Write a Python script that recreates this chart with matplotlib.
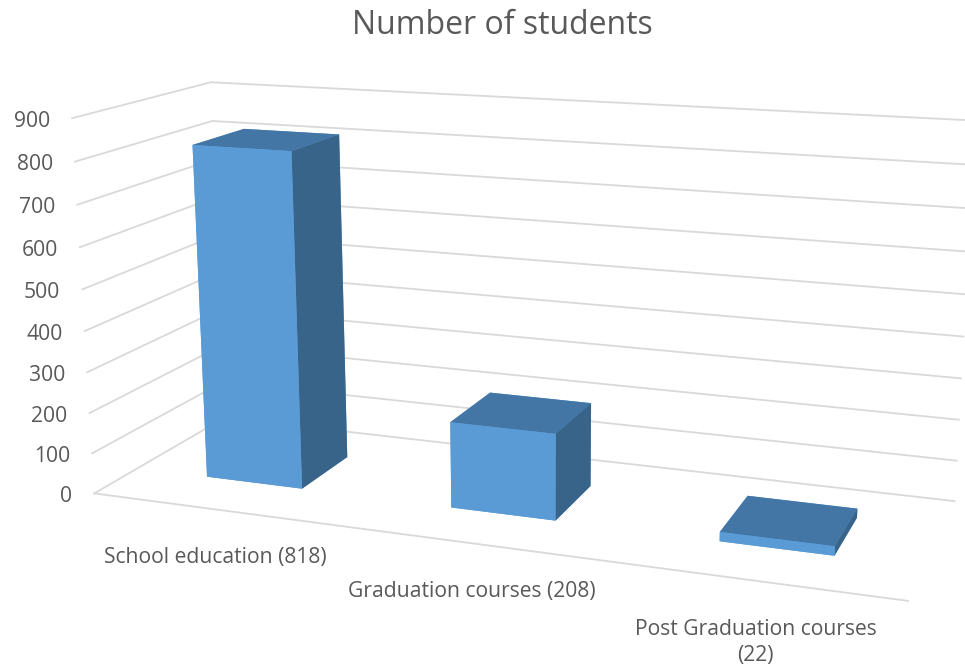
import matplotlib
matplotlib.use('Agg')
import matplotlib.pyplot as plt
from mpl_toolkits.mplot3d import proj3d

categories = ['School education (818)', 'Graduation courses (208)', 'Post Graduation courses\n(22)']
students = [818, 208, 22]
z_ticks = [0, 100, 200, 300, 400, 500, 600, 700, 800, 900]

plt.rcParams['font.family'] = ['Open Sans', 'DejaVu Sans']

W, H = 965, 668
fig = plt.figure(figsize=(W / 100, H / 100), dpi=100)
# square axes, bigger than the figure, camera values fitted against the gridlines
ax = fig.add_axes([-198.1 / W, -363.8 / H, 1400 / W, 1400 / H], projection='3d')
ax.set_proj_type('persp', focal_length=0.2619)
ax.view_init(elev=14.2986, azim=-69.6529, roll=0.1405)
ax.set_box_aspect((3, 0.9985, 1.3979), zoom=0.6683)
ax.set_axis_off()
ax.set_xlim(0, 3)
ax.set_ylim(0, 1)
ax.set_zlim(0, 900)
ax.computed_zorder = False

grid_c = '#d9d9d9'
text_c = '#595959'
px = 0.72  # points per pixel at dpi 100


def label_at(x, y, z, s, dx, dy, **kw):
    # Text3D reports a stale position, so project the anchor and use a 2D annotation
    xs, ys, _ = proj3d.proj_transform(x, y, z, ax.get_proj())
    ax.annotate(s, (xs, ys), xytext=(dx * px, dy * px), textcoords='offset points',
                fontsize=15.2, color=text_c, annotation_clip=False, **kw)


for t in z_ticks:
    ax.plot([0, 0, 3], [0, 1, 1], [t, t, t], color=grid_c, lw=1.3, zorder=1)
    label_at(0, 0, t, str(t), -22, -3, ha='right', va='center')
ax.plot([0, 3], [0, 0], [0, 0], color=grid_c, lw=1.3, zorder=1)

front, side, top = '#5b9bd5', '#386489', '#4476a5'
bar_w = 0.4
bar_y0 = 0.31
bar_d = 0.395
for i, v in enumerate(students):
    ax.bar3d(i + 0.5 - bar_w / 2, bar_y0, 0, bar_w, bar_d, v, shade=False,
             color=[front, top, front, front, front, side], zorder=2)

for i, c in enumerate(categories):
    label_at(i + 0.5, 0, 0, c, 1, -38, ha='center', va='top', linespacing=1.34)

fig.text(502 / W, 1 - 25 / H, 'Number of students', ha='center', va='center', fontsize=23, color=text_c)
fig.savefig('out.png', dpi=100)
